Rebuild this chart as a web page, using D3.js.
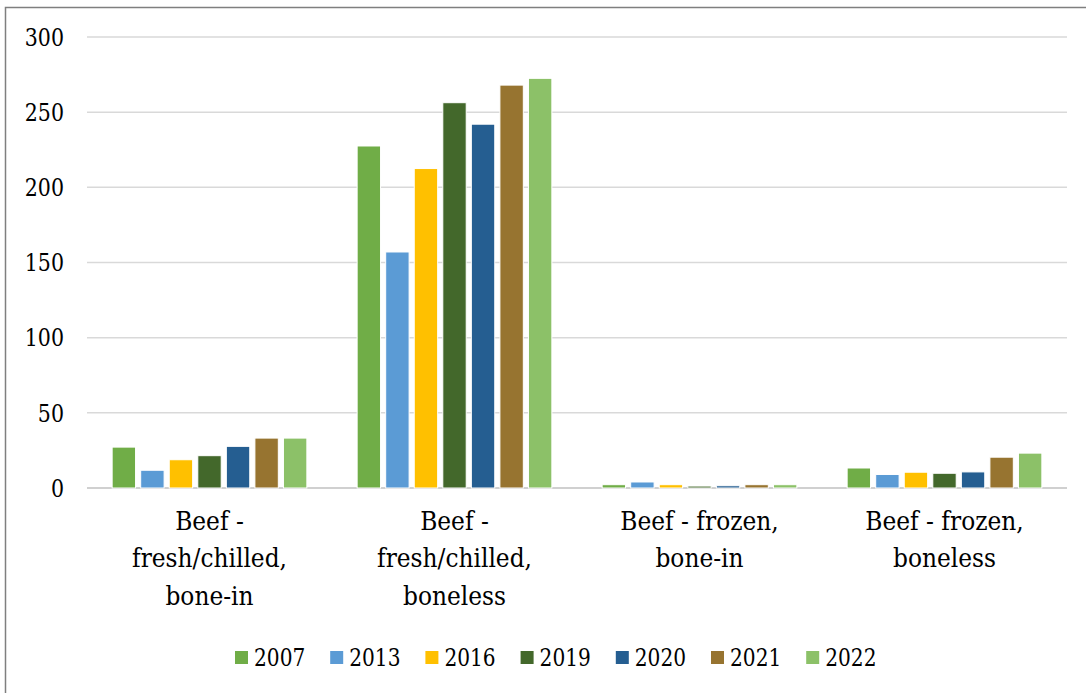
<!DOCTYPE html>
<html>
<head>
<meta charset="utf-8">
<script src="https://cdn.jsdelivr.net/npm/d3@7"></script>
<style>
  body { margin: 0; background: #fff; }
</style>
</head>
<body>
<script>
const w = 1086;
const h = 693;
// DejaVu Serif is the serif face that loads here; it runs wider than Times,
// so the text is squeezed a little horizontally
const serifFont = "DejaVu Serif";

const categories = [
  ["Beef -", "fresh/chilled,", "bone-in"],
  ["Beef -", "fresh/chilled,", "boneless"],
  ["Beef - frozen,", "bone-in"],
  ["Beef - frozen,", "boneless"]
];
const years = ["2007", "2013", "2016", "2019", "2020", "2021", "2022"];
const colors = ["#70AD47", "#5B9BD5", "#FFC000", "#43682B", "#255E91", "#977430", "#8CC168"];

// one array per year, values in category order
const v2007 = [27.2, 227.5, 2.2, 13.3];
const v2013 = [11.8, 157, 4.0, 9.0];
const v2016 = [18.8, 212.5, 2.2, 10.5];
const v2019 = [21.5, 256.3, 1.3, 9.8];
const v2020 = [27.7, 242, 1.5, 10.7];
const v2021 = [33.2, 268, 2.2, 20.5];
const v2022 = [33.2, 272.5, 2.2, 23.2];
const seriesValues = [v2007, v2013, v2016, v2019, v2020, v2021, v2022];
const yTicks = [0, 50, 100, 150, 200, 250, 300];

const plotLeft = 87, plotRight = 1067, plotTop = 37, plotBottom = 488;

const svg = d3.select("body")
  .append("svg")
  .attr("width", w)
  .attr("height", h)
  .style("font-family", serifFont);

// outer border (runs off the right and bottom edges)
svg.append("rect")
  .attr("x", 5.5)
  .attr("y", 7.5)
  .attr("width", 1200)
  .attr("height", 1000)
  .attr("fill", "none")
  .attr("stroke", "#7f7f7f")
  .attr("stroke-width", 1.5);

const x0 = d3.scaleBand()
  .domain(d3.range(categories.length))
  .range([plotLeft, plotRight]);

const x1 = d3.scaleBand()
  .domain(years)
  .range([20, x0.bandwidth() - 20])
  .padding(0.18);

const y = d3.scaleLinear()
  .domain([0, 300])
  .range([plotBottom, plotTop]);

// gridlines
svg.append("g")
  .selectAll("line")
  .data(yTicks)
  .enter()
  .append("line")
  .attr("x1", plotLeft)
  .attr("x2", plotRight)
  .attr("y1", d => y(d))
  .attr("y2", d => y(d))
  .attr("stroke", d => d === 0 ? "#d0d0d0" : "#d9d9d9")
  .attr("stroke-width", d => d === 0 ? 2 : 1.5);

// y labels
svg.append("g")
  .selectAll("text")
  .data(yTicks)
  .enter()
  .append("text")
  .attr("transform", d => "translate(64," + y(d) + ") scale(0.84,1)")
  .attr("dy", "0.36em")
  .attr("text-anchor", "end")
  .style("font-size", "24.5px")
  .text(d => d);

// bars
const groups = svg.append("g")
  .selectAll("g")
  .data(years)
  .enter()
  .append("g")
  .attr("fill", (d, i) => colors[i]);

groups.selectAll("rect")
  .data((d, i) => seriesValues[i].map((v, j) => ({ year: d, cat: j, value: v })))
  .enter()
  .append("rect")
  .attr("x", d => x0(d.cat) + x1(d.year))
  .attr("width", x1.bandwidth())
  .attr("y", d => y(d.value))
  .attr("height", d => y(0) - y(d.value))
  .attr("stroke", "#fff")
  .attr("stroke-width", 1);

// category labels
const catLabels = svg.append("g")
  .selectAll("text")
  .data(categories)
  .enter()
  .append("text")
  .attr("transform", (d, i) => "translate(" + (x0(i) + x0.bandwidth() / 2) + ",0) scale(0.88,1)")
  .attr("text-anchor", "middle")
  .style("font-size", "26.5px");

catLabels.selectAll("tspan")
  .data(d => d)
  .enter()
  .append("tspan")
  .attr("x", 0)
  .attr("y", (d, k) => 530 + k * 37.5)
  .text(d => d);

// legend
const legend = svg.append("g")
  .selectAll("g")
  .data(years)
  .enter()
  .append("g")
  .attr("transform", (d, i) => "translate(" + (235 + i * 95.2) + ",651)");

legend.append("rect")
  .attr("width", 13)
  .attr("height", 13)
  .attr("fill", (d, i) => colors[i]);

legend.append("text")
  .attr("transform", "translate(19,15) scale(0.84,1)")
  .style("font-size", "24px")
  .text(d => d);
</script>
</body>
</html>
